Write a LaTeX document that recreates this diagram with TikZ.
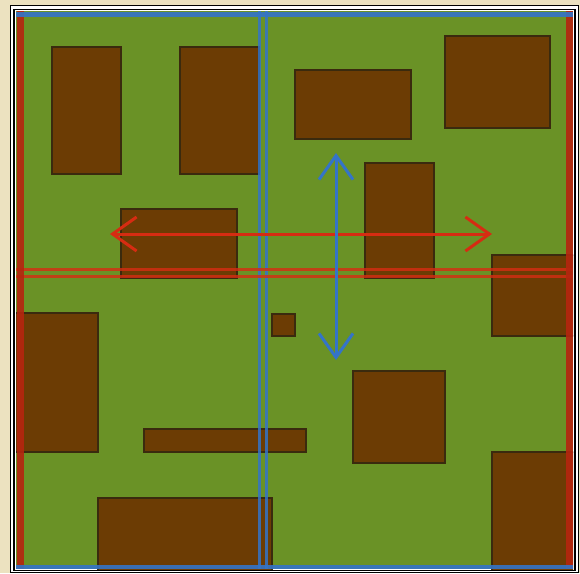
\documentclass[tikz,border=0pt]{standalone}
\usepackage{xcolor}
\usetikzlibrary{arrows.meta}

\definecolor{parchment}{RGB}{236,226,192}
\definecolor{grass}{RGB}{106,146,38}
\definecolor{dirt}{RGB}{108,60,4}
\definecolor{dirtedge}{RGB}{58,42,14}
\definecolor{redline}{RGB}{214,44,18}
\definecolor{blueline}{RGB}{52,116,200}

\begin{document}
\begin{tikzpicture}[
  x=1pt, y=-1pt,
  frameline/.style={draw=black, line width=1.4pt},
  block/.style={draw=dirtedge, fill=dirt, line width=1.8pt},
  blueaxis/.style={draw=blueline, line width=3pt, opacity=0.85},
  redaxis/.style={draw=redline, line width=3pt, opacity=0.8},
  rededge/.style={fill=redline!85!black, opacity=0.9},
  blueedge/.style={fill=blueline, opacity=0.9},
  sweep/.style={{Straight Barb[length=24pt,width=34pt]}-{Straight Barb[length=24pt,width=34pt]}, line width=3pt}
]
\useasboundingbox (0,0) rectangle (580,573);
\fill[parchment] (0,0) rectangle (580,573);

% double frame
\fill[white] (10.5,5.5) rectangle (578.5,572.5);
\draw[frameline] (10.5,5.5) rectangle (578.5,572.5);
\draw[frameline] (14,9.5) rectangle (575,570.5);

% field
\fill[grass] (16,11) rectangle (573,569);

% blocks
\begin{scope}
  \clip (16,11) rectangle (573,569);
  \foreach \xa/\ya/\xb/\yb in {
      52/47/121/174, 180/47/259/174, 295/70/411/139, 445/36/550/128,
      365/163/434/278, 121/209/237/278, 492/255/580/336, 8/313/98/452,
      272/314/295/336, 353/371/445/463, 144/429/306/452,
      492/452/580/580, 98/498/272/580}
    \draw[block] (\xa,\ya) rectangle (\xb,\yb);
\end{scope}

% axes
\coordinate (vtop) at (259.5,11);
\coordinate (vbot) at (259.5,569);
\draw[blueaxis] (vtop) -- (vbot);
\draw[blueaxis] ([xshift=6.5pt]vtop) -- ([xshift=6.5pt]vbot);
\coordinate (hleft) at (16,269.5);
\coordinate (hright) at (573,269.5);
\draw[redaxis] (hleft) -- (hright);
\draw[redaxis] ([yshift=-7pt]hleft) -- ([yshift=-7pt]hright);

% edge strips
\fill[rededge] (17,11) rectangle (24,569);
\fill[rededge] (566,11) rectangle (573,569);
\fill[blueedge] (16,12) rectangle (573,16.5);
\fill[blueedge] (16,564.5) rectangle (573,568.5);

% sweep arrows
\coordinate (west) at (110,234);
\coordinate (east) at (492,234);
\draw[sweep, redline] (west) -- (east);
\coordinate (north) at (336,153);
\coordinate (south) at (336,360);
\draw[sweep, blueline] (north) -- (south);
\end{tikzpicture}
\end{document}
